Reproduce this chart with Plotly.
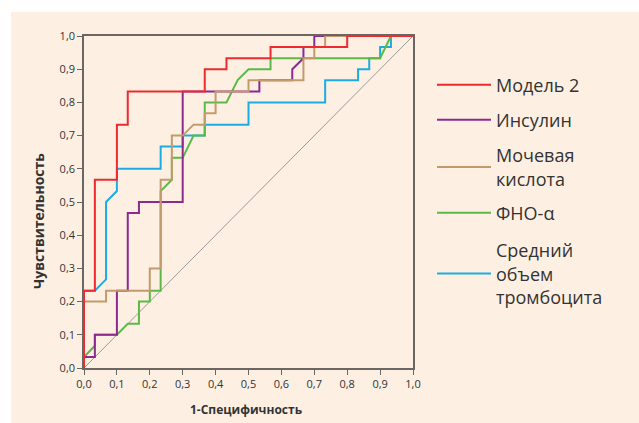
import plotly.graph_objects as go

# ROC curves (1 - specificity, sensitivity)
model2_fpr = [0, 0, 0.033, 0.033, 0.1, 0.1, 0.133, 0.133, 0.367, 0.367, 0.433, 0.433, 0.567, 0.567, 0.8, 0.8, 1]
model2_tpr = [0, 0.233, 0.233, 0.567, 0.567, 0.733, 0.733, 0.833, 0.833, 0.9, 0.9, 0.933, 0.933, 0.967, 0.967, 1, 1]

insulin_fpr = [0, 0, 0.033, 0.033, 0.1, 0.1, 0.133, 0.133, 0.167, 0.167, 0.3, 0.3, 0.533, 0.533, 0.633, 0.633, 0.667, 0.667, 0.7, 0.7, 1]
insulin_tpr = [0, 0.033, 0.033, 0.1, 0.1, 0.233, 0.233, 0.467, 0.467, 0.5, 0.5, 0.833, 0.833, 0.867, 0.867, 0.9, 0.933, 0.967, 0.967, 1, 1]

uric_fpr = [0, 0, 0.067, 0.067, 0.2, 0.2, 0.233, 0.233, 0.267, 0.267, 0.3, 0.333, 0.367, 0.367, 0.4, 0.4, 0.5, 0.5, 0.667, 0.667, 0.7, 0.7, 0.733, 0.733, 1]
uric_tpr = [0, 0.2, 0.2, 0.233, 0.233, 0.3, 0.3, 0.567, 0.567, 0.7, 0.7, 0.733, 0.733, 0.767, 0.767, 0.833, 0.833, 0.867, 0.867, 0.933, 0.933, 0.967, 0.967, 1, 1]

tnf_fpr = [0, 0, 0.033, 0.033, 0.1, 0.133, 0.167, 0.167, 0.2, 0.2, 0.233, 0.233, 0.267, 0.267, 0.3, 0.333, 0.367, 0.367, 0.433, 0.467, 0.5, 0.567, 0.567, 0.9, 0.933, 1]
tnf_tpr = [0, 0.033, 0.067, 0.1, 0.1, 0.133, 0.133, 0.2, 0.2, 0.233, 0.233, 0.533, 0.567, 0.633, 0.633, 0.7, 0.7, 0.8, 0.8, 0.867, 0.9, 0.9, 0.933, 0.933, 1, 1]

mpv_fpr = [0, 0, 0.033, 0.067, 0.067, 0.1, 0.1, 0.233, 0.233, 0.3, 0.3, 0.367, 0.367, 0.5, 0.5, 0.733, 0.733, 0.833, 0.833, 0.867, 0.867, 0.9, 0.9, 0.933, 0.933, 1]
mpv_tpr = [0, 0.233, 0.233, 0.267, 0.5, 0.533, 0.6, 0.6, 0.667, 0.667, 0.7, 0.7, 0.733, 0.733, 0.8, 0.8, 0.867, 0.867, 0.9, 0.9, 0.933, 0.933, 0.967, 0.967, 1, 1]

ref_line = [0, 1]

tick_vals = [0, 0.1, 0.2, 0.3, 0.4, 0.5, 0.6, 0.7, 0.8, 0.9, 1.0]
tick_text = ["0,0", "0,1", "0,2", "0,3", "0,4", "0,5", "0,6", "0,7", "0,8", "0,9", "1,0"]

series_names = ["Средний<br>объем<br>тромбоцита", "ФНО-α", "Инсулин", "Мочевая<br>кислота", "Модель 2"]
series_x = [mpv_fpr, tnf_fpr, insulin_fpr, uric_fpr, model2_fpr]
series_y = [mpv_tpr, tnf_tpr, insulin_tpr, uric_tpr, model2_tpr]
series_colors = ["#1cace4", "#5cb947", "#8c2a90", "#c49a6c", "#ec2a2f"]
# legend entry vertical centre (pixels from top of the image)
legend_ids = ["legend5", "legend4", "legend2", "legend3", "legend"]
legend_centres_px = [274, 213, 120, 167, 85]

CREAM = "#fdf0e3"
FONT = "Open Sans"
TXT = "#333333"

L, R, T, B = 84, 226, 36, 55
W, H = 639, 423
pw, ph = W - L - R, H - T - B

fig = go.Figure()
fig.add_trace(go.Scatter(x=ref_line, y=ref_line, mode="lines",
                         line=dict(color="#9a9a9a", width=1), showlegend=False,
                         hoverinfo="skip"))
for name, xs, ys, color, lg in zip(series_names, series_x, series_y, series_colors, legend_ids):
    fig.add_trace(go.Scatter(x=xs, y=ys, mode="lines", name=name,
                             line=dict(color=color, width=2), legend=lg))

fig.add_shape(type="rect", xref="paper", yref="paper", layer="below",
              x0=(11 - L) / pw, x1=(W - L) / pw,
              y0=-(B) / ph, y1=(H - B - 12) / ph,
              fillcolor=CREAM, line=dict(width=0))

axis_common = dict(range=[0, 1], tickvals=tick_vals, ticktext=tick_text,
                   showgrid=False, zeroline=False, showline=True,
                   linecolor="#6b6661", linewidth=1.5, mirror=True,
                   ticks="outside", ticklen=5, tickcolor="#6b6661", tickwidth=1,
                   tickfont=dict(family=FONT, size=11, color=TXT))

legend_layout = {}
for lg, cpx in zip(legend_ids, legend_centres_px):
    legend_layout[lg] = dict(x=(432 - L) / pw, y=(H - B - cpx) / ph,
                             xanchor="left", yanchor="middle",
                             bgcolor="rgba(0,0,0,0)",
                             font=dict(family=FONT, size=18, color=TXT),
                             itemwidth=54, valign="middle")

fig.update_layout(
    width=W, height=H,
    margin=dict(l=L, r=R, t=T, b=B),
    paper_bgcolor="white",
    plot_bgcolor="rgba(0,0,0,0)",
    font=dict(family=FONT, color=TXT),
    xaxis=dict(**axis_common),
    yaxis=dict(**axis_common),
    annotations=[
        dict(text="<b>1-Специфичность</b>", xref="paper", yref="paper",
             x=(246 - L) / pw, y=(H - B - 409) / ph, xanchor="center", yanchor="middle",
             showarrow=False, font=dict(family=FONT, size=12, color=TXT)),
        dict(text="<b>Чувствительность</b>", xref="paper", yref="paper", textangle=-90,
             x=(38 - L) / pw, y=(H - B - 221) / ph, xanchor="center", yanchor="middle",
             showarrow=False, font=dict(family=FONT, size=14, color=TXT)),
    ],
    **legend_layout,
)

fig.write_html("out.html")
